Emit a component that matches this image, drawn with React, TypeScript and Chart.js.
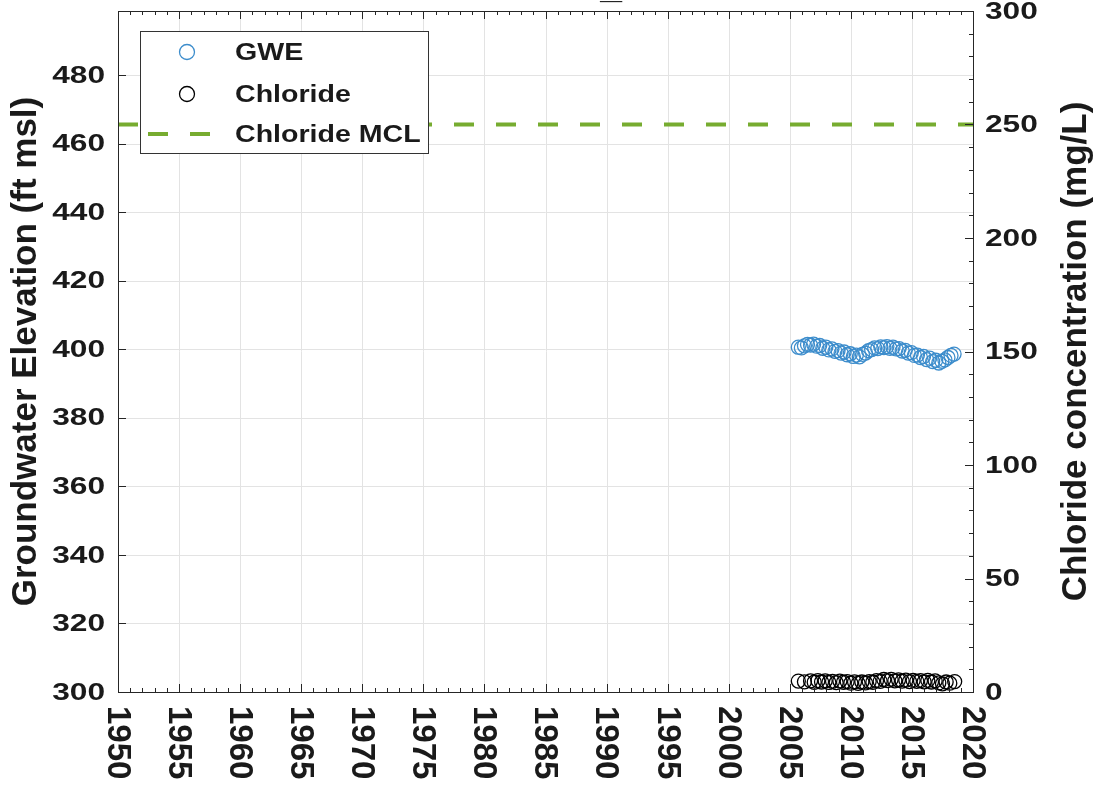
import React, { useEffect, useRef } from "react";
import { Chart, registerables } from "chart.js";

Chart.register(...registerables);

// ---- data ----
const gweYears = [
  2005.7, 2005.95, 2006.2, 2006.45, 2006.7, 2006.95, 2007.2, 2007.45, 2007.7, 2007.95,
  2008.2, 2008.45, 2008.7, 2008.95, 2009.2, 2009.45, 2009.7, 2009.95, 2010.2, 2010.45,
  2010.7, 2010.95, 2011.2, 2011.45, 2011.7, 2011.95, 2012.2, 2012.45, 2012.7, 2012.95,
  2013.2, 2013.45, 2013.7, 2013.95, 2014.2, 2014.45, 2014.7, 2014.95, 2015.2, 2015.45,
  2015.7, 2015.95, 2016.2, 2016.45, 2016.7, 2016.95, 2017.2, 2017.45, 2017.7, 2017.95,
  2018.2, 2018.45,
];
const gweValues = [
  400.6, 400.4, 401.0, 401.4, 401.2, 401.5, 400.9, 401.1, 400.3, 400.6,
  399.8, 400.1, 399.4, 399.6, 398.9, 399.2, 398.4, 398.7, 397.9, 398.3,
  397.8, 398.5, 398.9, 399.6, 399.9, 400.4, 400.2, 400.7, 400.5, 400.8,
  400.3, 400.6, 400.1, 400.2, 399.5, 399.7, 398.9, 399.0, 398.2, 398.3,
  397.6, 397.9, 397.0, 397.4, 396.4, 396.8, 396.0, 396.5, 396.9, 397.6,
  398.2, 398.6,
];
const clYears = [
  2005.7, 2006.2, 2006.7, 2007.0, 2007.3, 2007.6, 2007.9, 2008.2, 2008.5, 2008.8,
  2009.1, 2009.4, 2009.7, 2010.0, 2010.3, 2010.6, 2010.9, 2011.2, 2011.5, 2011.8,
  2012.1, 2012.4, 2012.7, 2013.0, 2013.3, 2013.6, 2013.9, 2014.2, 2014.5, 2014.8,
  2015.1, 2015.4, 2015.7, 2016.0, 2016.3, 2016.6, 2016.9, 2017.2, 2017.5, 2017.8,
  2018.1, 2018.5,
];
const clValues = [
  4.8, 4.5, 4.9, 4.3, 5.0, 4.4, 4.9, 4.2, 4.7, 4.1,
  4.8, 4.3, 4.6, 3.9, 4.5, 3.8, 4.4, 4.0, 4.6, 4.3,
  5.0, 4.7, 5.5, 5.0, 5.6, 4.9, 5.3, 4.8, 5.2, 4.6,
  5.1, 4.7, 5.0, 4.5, 5.1, 4.4, 4.9, 4.0, 3.6, 4.4,
  3.9, 4.6,
];
const mclYears = [1950, 2020];
const mclValues = [250, 250];

const xTicks = [1950, 1955, 1960, 1965, 1970, 1975, 1980, 1985, 1990, 1995, 2000, 2005, 2010, 2015, 2020];
const yLeftTicks = [300, 320, 340, 360, 380, 400, 420, 440, 460, 480];
const yRightTicks = [0, 50, 100, 150, 200, 250, 300];

const xMin = 1950, xMax = 2020;
const yLMin = 300, yLMax = 498.7;
const yRMin = 0, yRMax = 300;

const leftTitle = "Groundwater Elevation (ft msl)";
const rightTitle = "Chloride concentration (mg/L)";
const legendLabels = ["GWE", "Chloride", "Chloride MCL"];

const GWE_COLOR = "#3d8dcc";
const CL_COLOR = "#000000";
const MCL_COLOR = "#77ac30";
const TEXT = "#1a1a1a";
const AXIS = "#262626";
const GRID = "#e3e3e3";
const FONT = '"Liberation Sans", Arial, sans-serif';

function hText(ctx: CanvasRenderingContext2D, t: string, x: number, y: number, align: CanvasTextAlign, size: number, sx: number) {
  ctx.save();
  ctx.translate(x, y);
  ctx.scale(sx, 1);
  ctx.font = `bold ${size}px ${FONT}`;
  ctx.textAlign = align;
  ctx.textBaseline = "middle";
  ctx.fillStyle = TEXT;
  ctx.fillText(t, 0, 0);
  ctx.restore();
}

const overlay = {
  id: "overlay",
  beforeDatasetsDraw(chart: any) {
    const { ctx, chartArea: a, scales } = chart;
    ctx.save();
    ctx.strokeStyle = GRID;
    ctx.lineWidth = 1;
    for (const t of xTicks) {
      const px = Math.round(scales.x.getPixelForValue(t)) + 0.5;
      ctx.beginPath(); ctx.moveTo(px, a.top); ctx.lineTo(px, a.bottom); ctx.stroke();
    }
    for (const t of yLeftTicks) {
      const py = Math.round(scales.yL.getPixelForValue(t)) + 0.5;
      ctx.beginPath(); ctx.moveTo(a.left, py); ctx.lineTo(a.right, py); ctx.stroke();
    }
    ctx.restore();
  },
  afterDatasetsDraw(chart: any) {
    const { ctx, chartArea: a, scales } = chart;
    ctx.save();
    // axes box
    ctx.strokeStyle = AXIS;
    ctx.lineWidth = 1;
    ctx.strokeRect(a.left + 0.5, a.top + 0.5, a.right - a.left, a.bottom - a.top);
    // x ticks (top & bottom)
    for (let yr = xMin; yr <= xMax; yr++) {
      const px = Math.round(scales.x.getPixelForValue(yr)) + 0.5;
      const len = yr % 5 === 0 ? 8 : 4;
      ctx.beginPath();
      ctx.moveTo(px, a.bottom); ctx.lineTo(px, a.bottom - len);
      ctx.moveTo(px, a.top); ctx.lineTo(px, a.top + len);
      ctx.stroke();
    }
    // left ticks
    for (const t of yLeftTicks) {
      const py = Math.round(scales.yL.getPixelForValue(t)) + 0.5;
      ctx.beginPath(); ctx.moveTo(a.left, py); ctx.lineTo(a.left + 8, py); ctx.stroke();
    }
    // right ticks
    for (let v = yRMin; v <= yRMax; v += 10) {
      const py = Math.round(scales.yR.getPixelForValue(v)) + 0.5;
      const len = v % 50 === 0 ? 8 : 4;
      ctx.beginPath(); ctx.moveTo(a.right, py); ctx.lineTo(a.right - len, py); ctx.stroke();
    }
    // left tick labels
    for (const t of yLeftTicks) {
      hText(ctx, String(t), a.left - 13, scales.yL.getPixelForValue(t) + 1, "right", 24, 1.32);
    }
    // right tick labels
    for (const t of yRightTicks) {
      hText(ctx, String(t), a.right + 12, scales.yR.getPixelForValue(t) + 1, "left", 24, 1.32);
    }
    // x tick labels, rotated clockwise
    for (const t of xTicks) {
      ctx.save();
      ctx.translate(scales.x.getPixelForValue(t), a.bottom + 14);
      ctx.rotate(Math.PI / 2);
      ctx.font = `bold 33px ${FONT}`;
      ctx.textAlign = "left";
      ctx.textBaseline = "middle";
      ctx.fillStyle = TEXT;
      ctx.fillText(String(t), 0, 1);
      ctx.restore();
    }
    // axis titles
    const titles: [string, number][] = [[leftTitle, 26], [rightTitle, 1076]];
    for (const [t, x] of titles) {
      ctx.save();
      ctx.translate(x, (a.top + a.bottom) / 2);
      ctx.rotate(-Math.PI / 2);
      ctx.font = `bold 35px ${FONT}`;
      ctx.textAlign = "center";
      ctx.textBaseline = "middle";
      ctx.fillStyle = TEXT;
      ctx.fillText(t, 0, 0);
      ctx.restore();
    }
    // clipped title remnant
    ctx.save();
    ctx.font = `bold 30px ${FONT}`;
    ctx.textAlign = "center";
    ctx.textBaseline = "alphabetic";
    ctx.fillStyle = TEXT;
    ctx.scale(1.3, 1);
    ctx.fillText("_", 611 / 1.3, -1);
    ctx.restore();

    // legend
    const lx = 140, ly = 31, lw = 288, lh = 122;
    ctx.fillStyle = "#ffffff";
    ctx.fillRect(lx, ly, lw, lh);
    ctx.strokeStyle = "#333333";
    ctx.lineWidth = 1;
    ctx.strokeRect(lx + 0.5, ly + 0.5, lw, lh);
    const rows = [52, 94, 134];
    ctx.lineWidth = 1.3;
    ctx.strokeStyle = GWE_COLOR;
    ctx.beginPath(); ctx.arc(187, rows[0], 7.5, 0, Math.PI * 2); ctx.stroke();
    ctx.strokeStyle = CL_COLOR;
    ctx.beginPath(); ctx.arc(187, rows[1], 7.5, 0, Math.PI * 2); ctx.stroke();
    ctx.strokeStyle = MCL_COLOR;
    ctx.lineWidth = 4;
    ctx.setLineDash([20, 22]);
    ctx.beginPath(); ctx.moveTo(148, rows[2]); ctx.lineTo(211, rows[2]); ctx.stroke();
    ctx.setLineDash([]);
    legendLabels.forEach((t, i) => hText(ctx, t, 235, rows[i] + 1, "left", 24, 1.19));
    ctx.restore();
  },
};

export default function App() {
  const ref = useRef<HTMLCanvasElement | null>(null);
  useEffect(() => {
    document.body.style.margin = "0";
    const canvas = ref.current!;
    const chart = new Chart(canvas, {
      type: "scatter",
      data: {
        datasets: [
          {
            label: "Chloride MCL",
            data: mclYears.map((x, i) => ({ x, y: mclValues[i] })),
            yAxisID: "yR",
            showLine: true,
            borderColor: MCL_COLOR,
            borderWidth: 4,
            borderDash: [20, 22],
            pointRadius: 0,
            order: 0,
          } as any,
          {
            label: "GWE",
            data: gweYears.map((x, i) => ({ x, y: gweValues[i] })),
            yAxisID: "yL",
            pointRadius: 7,
            pointBorderWidth: 1.3,
            pointBorderColor: GWE_COLOR,
            pointBackgroundColor: "rgba(0,0,0,0)",
            order: 2,
          },
          {
            label: "Chloride",
            data: clYears.map((x, i) => ({ x, y: clValues[i] })),
            yAxisID: "yR",
            pointRadius: 7,
            pointBorderWidth: 1.3,
            pointBorderColor: CL_COLOR,
            pointBackgroundColor: "rgba(0,0,0,0)",
            order: 1,
          },
        ],
      },
      options: {
        animation: false,
        responsive: false,
        devicePixelRatio: 1,
        layout: { padding: { left: 118, right: 124, top: 11, bottom: 94 } },
        plugins: { legend: { display: false }, tooltip: { enabled: false } },
        scales: {
          x: { type: "linear", min: xMin, max: xMax, display: false },
          yL: { type: "linear", position: "left", min: yLMin, max: yLMax, display: false },
          yR: { type: "linear", position: "right", min: yRMin, max: yRMax, display: false },
        },
      },
      plugins: [overlay],
    });
    return () => chart.destroy();
  }, []);
  return (
    <div style={{ position: "absolute", left: 0, top: 0, width: 1097, height: 786, background: "#fff" }}>
      <canvas ref={ref} width={1097} height={786} />
    </div>
  );
}
